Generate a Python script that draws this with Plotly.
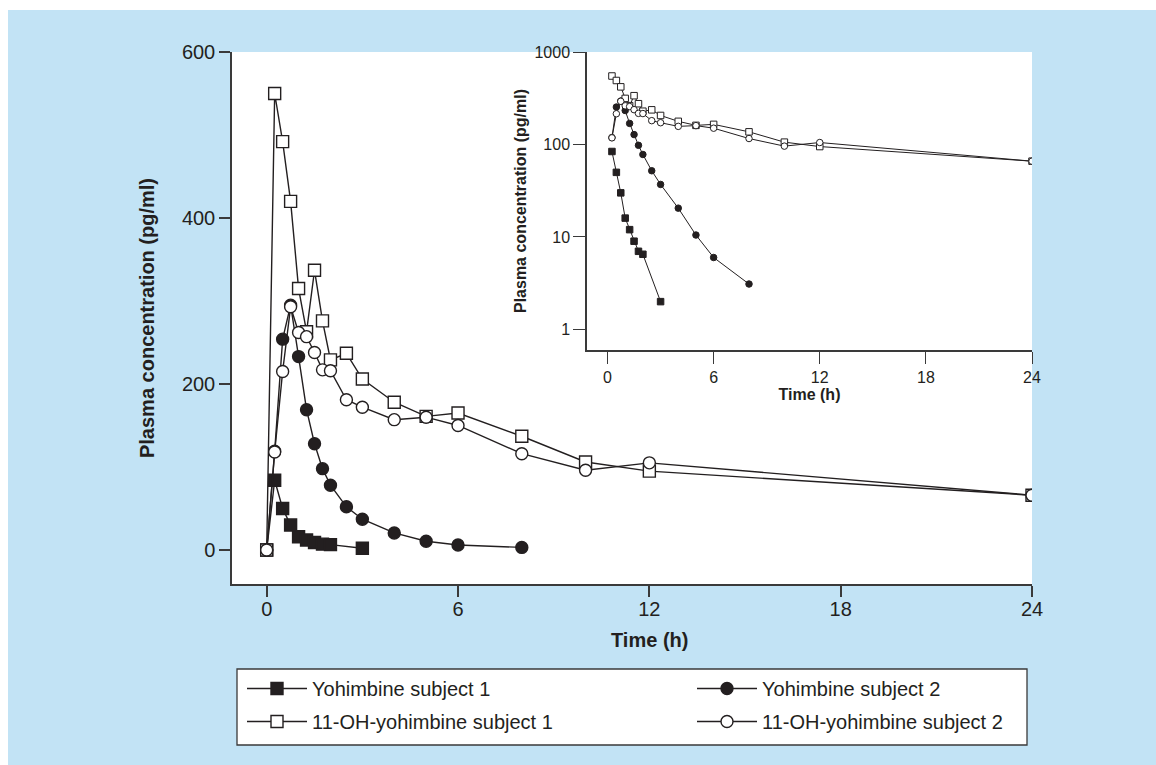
import plotly.graph_objects as go

# ---------------- data ----------------
t_y1 = [0, 0.25, 0.5, 0.75, 1, 1.25, 1.5, 1.75, 2, 3]
c_y1 = [0, 84, 50, 30, 16, 12, 9, 7, 6.5, 2]

t_y2 = [0, 0.25, 0.5, 0.75, 1, 1.25, 1.5, 1.75, 2, 2.5, 3, 4, 5, 6, 8]
c_y2 = [0, 119, 254, 295, 233, 169, 128, 98, 78, 52, 37, 20.5, 10.5, 6, 3.1]

t_oh1 = [0, 0.25, 0.5, 0.75, 1, 1.25, 1.5, 1.75, 2, 2.5, 3, 4, 5, 6, 8, 10, 12, 24]
c_oh1 = [0, 550, 492, 420, 315, 263, 337, 276, 229, 237, 206, 178, 161, 165, 137, 106, 95, 66]

t_oh2 = [0, 0.25, 0.5, 0.75, 1, 1.25, 1.5, 1.75, 2, 2.5, 3, 4, 5, 6, 8, 10, 12, 24]
c_oh2 = [0, 118, 215, 293, 262, 257, 238, 217, 216, 181, 172, 157, 160, 150, 116, 96, 105, 66]

names = ["Yohimbine subject 1", "Yohimbine subject 2",
         "11-OH-yohimbine subject 1", "11-OH-yohimbine subject 2"]

x_ticks = [0, 6, 12, 18, 24]
y_ticks_main = [0, 200, 400, 600]
y_ticks_inset = [1, 10, 100, 1000]
y_ticklabels_inset = ["1", "10", "100", "1000"]

# ---------------- style ----------------
INK = "#231f20"
AX = "#3a3a3a"
BLUE = "#c2e3f5"
FONT = "Liberation Sans"

# (x, y, symbol, fill, legend column, legend group)
series = [
    (t_y1, c_y1, "square", INK, "legend", "g1"),
    (t_y2, c_y2, "circle", INK, "legend2", "g2"),
    (t_oh1, c_oh1, "square", "white", "legend", "g3"),
    (t_oh2, c_oh2, "circle", "white", "legend2", "g4"),
]

fig = go.Figure()

# main plot
for (tx, cy, sym, fill, lg, grp), nm in zip(series, names):
    fig.add_trace(go.Scatter(
        x=tx, y=cy, name=nm, mode="lines+markers",
        line=dict(color=INK, width=1.4),
        marker=dict(symbol=sym, size=12, color=fill, line=dict(color=INK, width=1.4)),
        xaxis="x", yaxis="y", showlegend=True, legend=lg, legendgroup=grp,
    ))

# inset (log scale) - zero values are omitted
for (tx, cy, sym, fill, lg, grp), nm in zip(series, names):
    fig.add_trace(go.Scatter(
        x=tx[1:], y=cy[1:], name=nm, mode="lines+markers",
        line=dict(color=INK, width=1),
        marker=dict(symbol=sym, size=6.5, color=fill, line=dict(color=INK, width=1)),
        xaxis="x2", yaxis="y2", showlegend=False, legend=lg, legendgroup=grp,
    ))

W, H = 1156, 765
L, R, T, B = 232, 124, 52, 181
pw, ph = W - L - R, H - T - B

def px_x(p):
    return (p - L) / pw

def px_y(p):
    return (H - B - p) / ph

legend_common = dict(
    orientation="v", xanchor="left", yanchor="top",
    bgcolor="rgba(0,0,0,0)", borderwidth=0,
    itemwidth=60, tracegroupgap=4, groupclick="toggleitem",
    font=dict(size=20, color=INK, family=FONT),
)

fig.update_layout(
    width=W, height=H,
    margin=dict(l=L, r=R, t=T, b=B, pad=0, autoexpand=False),
    paper_bgcolor=BLUE, plot_bgcolor="white",
    font=dict(family=FONT, size=20, color=INK),
    xaxis=dict(
        domain=[0, 1], range=[-1.088, 24], tickvals=x_ticks,
        showline=True, linecolor=AX, linewidth=1.5,
        ticks="outside", ticklen=11, tickwidth=1.5, tickcolor=AX,
        showgrid=False, zeroline=False, tickfont=dict(size=20),
        ticklabelstandoff=-5,
    ),
    yaxis=dict(
        domain=[0, 1], range=[-41, 600], tickvals=y_ticks_main,
        showline=True, linecolor=AX, linewidth=1.5,
        ticks="outside", ticklen=11, tickwidth=1.5, tickcolor=AX,
        showgrid=False, zeroline=False, tickfont=dict(size=20),
        title=dict(text="<b>Plasma concentration (pg/ml)</b>", font=dict(size=20), standoff=22),
    ),
    xaxis2=dict(
        domain=[px_x(587), 1.0], range=[-1.16, 24], tickvals=x_ticks,
        anchor="y2",
        showline=True, linecolor=AX, linewidth=1.5,
        ticks="outside", ticklen=12, tickwidth=1.3, tickcolor=AX,
        showgrid=False, zeroline=False, tickfont=dict(size=16),
        title=dict(text="<b>Time (h)</b>", font=dict(size=16), standoff=4),
    ),
    yaxis2=dict(
        domain=[px_y(350), 1.0], type="log", range=[-0.222, 3],
        tickvals=y_ticks_inset, ticktext=y_ticklabels_inset,
        anchor="x2",
        showline=True, linecolor=AX, linewidth=1.5,
        ticks="outside", ticklen=12, tickwidth=1.3, tickcolor=AX,
        showgrid=False, zeroline=False, tickfont=dict(size=16),
        title=dict(text="<b>Plasma concentration (pg/ml)</b>", font=dict(size=16), standoff=4),
    ),
    legend=dict(x=px_x(242), y=px_y(669), **legend_common),
    legend2=dict(x=px_x(692), y=px_y(669), **legend_common),
    annotations=[
        dict(text="<b>Time (h)</b>", x=12, xref="x", y=px_y(640), yref="paper",
             showarrow=False, font=dict(size=20, color=INK), xanchor="center", yanchor="middle"),
    ],
    shapes=[
        # white page strips
        dict(type="rect", xref="paper", yref="paper", x0=px_x(0), x1=px_x(W),
             y0=px_y(10), y1=px_y(0), fillcolor="white", line=dict(width=0), layer="above"),
        dict(type="rect", xref="paper", yref="paper", x0=px_x(0), x1=px_x(8),
             y0=px_y(H), y1=px_y(0), fillcolor="white", line=dict(width=0), layer="above"),
        # legend frame
        dict(type="rect", xref="paper", yref="paper", x0=px_x(237), x1=px_x(1027),
             y0=px_y(745), y1=px_y(669), fillcolor="white",
             line=dict(color=AX, width=1.3), layer="below"),
    ],
)

fig.write_html("out.html", config={"displayModeBar": False},
               post_script="document.body.style.margin='0px';")
